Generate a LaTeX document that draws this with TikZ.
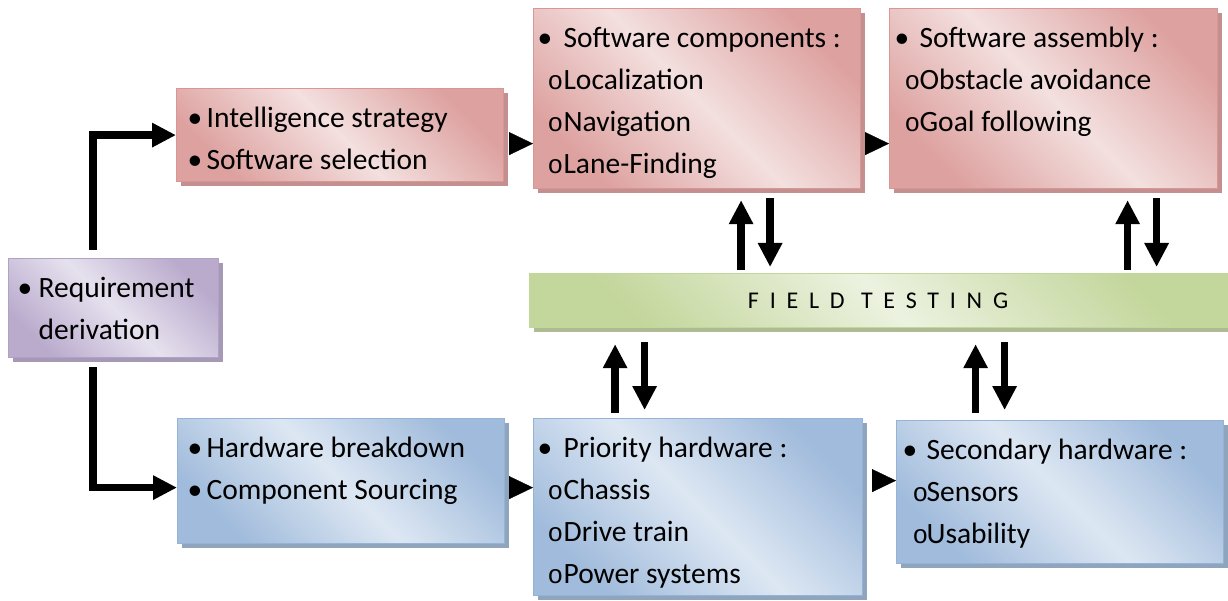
\documentclass[tikz,border=0pt]{standalone}
\usepackage{fontspec}
\setmainfont{Carlito}
\newfontfamily\circfont{Liberation Mono}
\usepackage{xcolor}
\usepackage{tikz}
\usetikzlibrary{positioning, shapes, calc, arrows.meta, shadows}
\definecolor{pinkdark}{RGB}{217,150,148}
\definecolor{pinklight}{RGB}{243,224,223}
\definecolor{bluedark}{RGB}{149,179,215}
\definecolor{bluelight}{RGB}{221,231,243}
\definecolor{purpledark}{RGB}{178,161,199}
\definecolor{purplelight}{RGB}{230,225,238}
\definecolor{greendark}{RGB}{195,214,155}
\definecolor{greenlight}{RGB}{236,242,224}

\newcommand{\itm}[2][16pt]{\par\noindent\rule{0pt}{22pt}\makebox[#1][l]{\hspace*{-3pt}\textbullet}#2}
\newcommand{\subitm}[2][23pt]{\par\noindent\rule{0pt}{22pt}\hspace*{7pt}\makebox[\dimexpr#1-7pt\relax][l]{\circfont\fontsize{26}{26}\selectfont o}#2}
\newcommand{\cont}[2][16pt]{\par\noindent\rule{0pt}{22pt}\hspace*{#1}#2}
\newcommand{\boxtxt}[4]{\parbox[c][#2][t]{#1}{\leftskip=#3\relax\vspace*{17pt}#4}}

\begin{document}
\begin{tikzpicture}[x=1pt, y=-1pt,
    font=\fontsize{29.5}{42}\selectfont,
    stage/.style={anchor=north west, inner sep=0pt, line width=1.2pt},
    pinkbox/.style={stage, draw=pinkdark, top color=pinkdark!85!pinklight, bottom color=pinkdark!85!pinklight, middle color=pinklight, shading angle=-45,
        drop shadow={shadow xshift=4pt, shadow yshift=-4pt, fill=pinkdark!75!gray, opacity=1}},
    bluebox/.style={stage, draw=bluedark, top color=bluedark!85!bluelight, bottom color=bluedark!85!bluelight, middle color=bluelight, shading angle=-45,
        drop shadow={shadow xshift=4pt, shadow yshift=-4pt, fill=bluedark!70!gray, opacity=1}},
    purplebox/.style={stage, draw=purpledark, top color=purpledark!85!purplelight, bottom color=purpledark!85!purplelight, middle color=purplelight, shading angle=-45,
        drop shadow={shadow xshift=4pt, shadow yshift=-4pt, fill=purpledark!75!gray, opacity=1}},
    greenbox/.style={stage, draw=greendark, top color=greendark, bottom color=greendark, middle color=greenlight, shading angle=-45,
        drop shadow={shadow xshift=4pt, shadow yshift=-4pt, fill=greendark!70!gray, opacity=1}},
    fat/.style={line width=7.5pt, -{Triangle[length=24pt,width=23pt]}},
    tri/.style={line width=0.3pt, -{Triangle[length=24pt,width=23pt]}}]
    \useasboundingbox (0,0) rectangle (1228,601);

    %% boxes
    \node[purplebox] (req) at (8,258) {\boxtxt{210pt}{99pt}{12pt}{\itm[18pt]{Requirement}\cont[18pt]{derivation}}};
    \node[pinkbox] (intel) at (176,88) {\boxtxt{327pt}{93pt}{14pt}{\itm{Intelligence strategy}\itm{Software selection}}};
    \node[pinkbox] (comp) at (533,8) {\boxtxt{327pt}{180pt}{7pt}{\itm[23pt]{Software components :}\subitm{Localization}\subitm{Navigation}\subitm{Lane-Finding}}};
    \node[pinkbox] (asm) at (889,8) {\boxtxt{328pt}{180pt}{8pt}{\itm[22pt]{Software assembly :}\subitm[22pt]{Obstacle avoidance}\subitm[22pt]{Goal following}}};
    \node[greenbox, minimum width=711pt, minimum height=54pt] (field) at (529,273)
        {\addfontfeature{LetterSpace=45}\fontsize{24}{28}\selectfont FIELD TESTING\kern14pt};
    \node[bluebox] (hw) at (177,418) {\boxtxt{327pt}{125pt}{13pt}{\itm{Hardware breakdown}\itm{Component Sourcing}}};
    \node[bluebox] (prio) at (533,418) {\boxtxt{329pt}{177pt}{7pt}{\itm[23pt]{Priority hardware :}\subitm{Chassis}\subitm{Drive train}\subitm{Power systems}}};
    \node[bluebox] (sec) at (896,420) {\boxtxt{327pt}{143pt}{9pt}{\itm[21pt]{Secondary hardware :}\subitm[21pt]{Sensors}\subitm[21pt]{Usability}}};

    %% requirement split
    \draw[fat] ([xshift=-20.5pt,yshift=8pt]req.north) |- (intel.west);
    \draw[fat] ([xshift=-20.5pt,yshift=-9pt]req.south) |- ([yshift=-6.5pt]hw.west);

    %% flow between stages
    \draw[tri, shorten <=6pt] ([yshift=-8.5pt]intel.east) -- ([yshift=-8.5pt]intel.east -| comp.west);
    \draw[tri, shorten <=5pt] ([yshift=-45pt]comp.east) -- ([yshift=-45pt]comp.east -| asm.west);
    \draw[tri, shorten <=5pt] ([yshift=-6.5pt]hw.east) -- ([yshift=-6.5pt]hw.east -| prio.west);
    \draw[tri, shorten <=11pt] ([yshift=26.5pt]prio.east) -- ([yshift=26.5pt]prio.east -| sec.west);

    %% field testing loops
    \draw[fat, shorten <=3pt, shorten >=11pt] ([xshift=44pt]comp.south |- field.north) -- ([xshift=44pt]comp.south);
    \draw[fat, shorten <=9pt, shorten >=6pt] ([xshift=73pt]comp.south) -- ([xshift=73pt]comp.south |- field.north);
    \draw[fat, shorten <=3pt, shorten >=11pt] ([xshift=74pt]asm.south |- field.north) -- ([xshift=74pt]asm.south);
    \draw[fat, shorten <=9pt, shorten >=6pt] ([xshift=103pt]asm.south) -- ([xshift=103pt]asm.south |- field.north);
    \draw[fat, shorten <=5pt, shorten >=16pt] ([xshift=-83pt]prio.north) -- ([xshift=-83pt]prio.north |- field.south);
    \draw[fat, shorten <=14pt, shorten >=8pt] ([xshift=-53.5pt]prio.north |- field.south) -- ([xshift=-53.5pt]prio.north);
    \draw[fat, shorten <=7pt, shorten >=16pt] ([xshift=-84.5pt]sec.north) -- ([xshift=-84.5pt]sec.north |- field.south);
    \draw[fat, shorten <=14pt, shorten >=10pt] ([xshift=-55.5pt]sec.north |- field.south) -- ([xshift=-55.5pt]sec.north);
\end{tikzpicture}
\end{document}
